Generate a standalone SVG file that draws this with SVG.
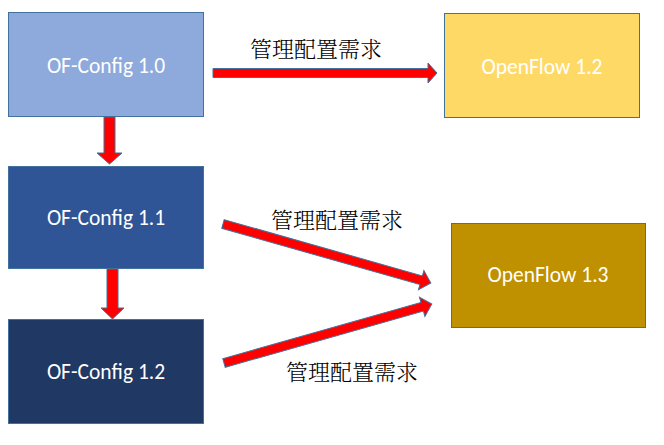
<svg xmlns="http://www.w3.org/2000/svg" width="664" height="445" viewBox="0 0 664 445">
<style>
.box{stroke:#41719C;stroke-width:1}
.lbl{font-family:"Calibri","Open Sans","Liberation Sans",sans-serif;font-size:21.5px;fill:#ffffff;text-anchor:middle;dominant-baseline:central}
.cn{font-family:"Noto Serif CJK SC","Noto Sans CJK SC",serif;font-size:22px;font-weight:300;fill:#000000;text-anchor:middle;dominant-baseline:central}
.arr{fill:#FF0000;stroke:#41719C;stroke-width:1}
</style>
<rect width="664" height="445" fill="#ffffff"/>
<g id="of10"><rect class="box" x="8.5" y="12.5" width="195" height="104" fill="#8EA9DB"/><text class="lbl" x="106" y="66">OF-Config 1.0</text></g>
<g id="of11"><rect class="box" x="8.5" y="166.5" width="195" height="102" fill="#2F5597"/><text class="lbl" x="106" y="218">OF-Config 1.1</text></g>
<g id="of12"><rect class="box" x="8.5" y="319.5" width="195" height="104" fill="#203864"/><text class="lbl" x="106" y="372">OF-Config 1.2</text></g>
<g id="ofl12"><rect class="box" x="444.5" y="13.5" width="195" height="104" fill="#FFD966"/><text class="lbl" x="542" y="67">OpenFlow 1.2</text></g>
<g id="ofl13"><rect class="box" x="451.5" y="223.5" width="194" height="104" fill="#BF9000"/><text class="lbl" x="548" y="275">OpenFlow 1.3</text></g>
<g id="connectors">
<polygon class="arr" points="213,68.5 428,68.5 428,63 437,73 428,83 428,77.5 213,77.5"/>
<polygon class="arr" points="104,117 115,117 115,153 122,153 109.5,164 97,153 104,153"/>
<polygon class="arr" points="107,269 118,269 118,308 124,308 112.5,319 101,308 107,308"/>
<polygon class="arr" transform="translate(223,224) rotate(15.84)" points="0,-4.5 206,-4.5 206,-10 216,0 206,10 206,4.5 0,4.5"/>
<polygon class="arr" transform="translate(224,363) rotate(-15.84)" points="0,-4.5 206,-4.5 206,-10 216,0 206,10 206,4.5 0,4.5"/>
<text class="cn" x="316" y="47">管理配置需求</text>
<text class="cn" x="337" y="218">管理配置需求</text>
<text class="cn" x="352" y="370">管理配置需求</text>
</g>
</svg>
